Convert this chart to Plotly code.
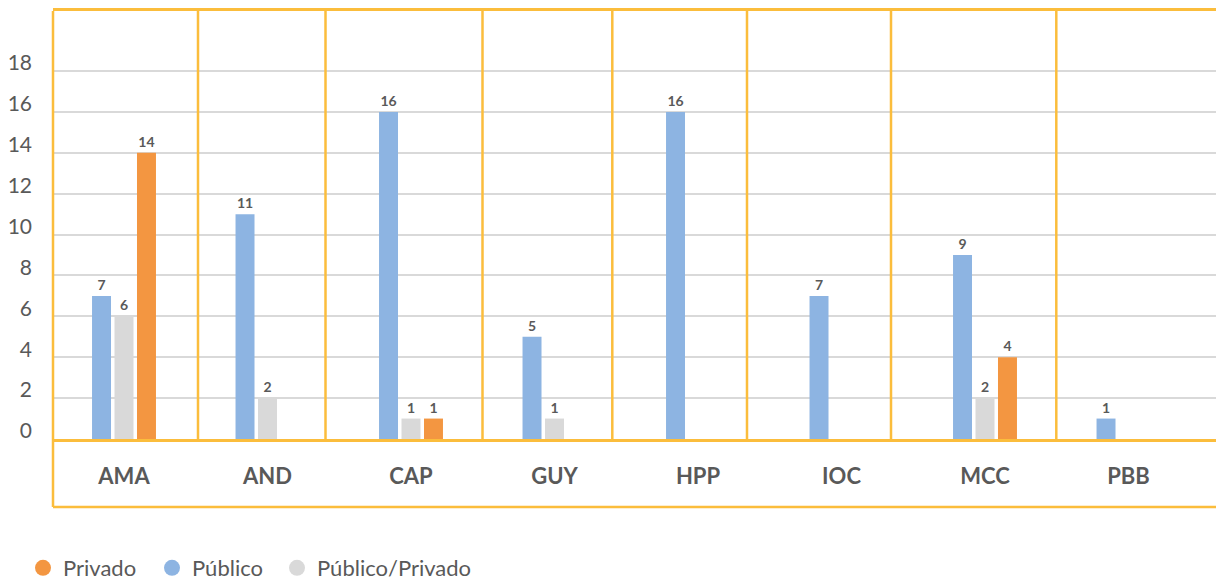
import plotly.graph_objects as go

categories = ["AMA", "AND", "CAP", "GUY", "HPP", "IOC", "MCC", "PBB"]
publico = [7, 11, 16, 5, 16, 7, 9, 1]
publico_privado = [6, 2, 1, 1, None, None, 2, None]
privado = [14, None, 1, None, None, None, 4, None]
y_ticks = [0, 2, 4, 6, 8, 10, 12, 14, 16, 18]

BLUE = "#8DB4E2"
GRAY = "#D9D9D9"
ORANGE = "#F39641"
YELLOW = "#FBBD3C"
TEXT = "#595959"
FONT = "Lato, 'Open Sans', sans-serif"

W, H = 1216, 581
ML, MT, MB = 53, 11, 142
plot_w = W - ML
plot_h = H - MT - MB

fig = go.Figure()
series = [
    ("Público", publico, BLUE, "legend2"),
    ("Público/Privado", publico_privado, GRAY, "legend3"),
    ("Privado", privado, ORANGE, "legend"),
]
for name, vals, color, lg in series:
    fig.add_trace(go.Bar(
        x=categories, y=vals, name=name, marker_color=color,
        marker_line_width=0, showlegend=False,
        text=[("" if v is None else str(v)) for v in vals],
        textposition="outside", cliponaxis=False,
        textfont=dict(family=FONT, size=14, color=TEXT, weight="bold"),
        hoverinfo="x+y+name",
    ))
for name, vals, color, lg in series:
    fig.add_trace(go.Scatter(
        x=[None], y=[None], mode="markers", name=name,
        marker=dict(color=color, size=16, symbol="circle"),
        legend=lg, showlegend=True,
    ))

# yellow table-like dividers (pixel positions of the reference frame)
divider_px = [198, 325.5, 482.5, 612.3, 747, 891, 1056.3]
shapes = []
for px in divider_px:
    xp = (px - ML) / plot_w
    shapes.append(dict(type="line", xref="paper", yref="paper", x0=xp, x1=xp,
                       y0=0, y1=1, line=dict(color=YELLOW, width=2.5), layer="above"))
bottom_y = -(507 - (H - MB)) / plot_h
shapes.append(dict(type="line", xref="paper", yref="paper", x0=0, x1=0,
                   y0=bottom_y, y1=1, line=dict(color=YELLOW, width=2.5), layer="above"))
shapes.append(dict(type="line", xref="paper", yref="paper", x0=0, x1=1.01,
                   y0=bottom_y, y1=bottom_y, line=dict(color=YELLOW, width=2.5), layer="above"))

cat_w = 143.5
left_off = (124 - ML) / cat_w
x_range = [-left_off, -left_off + plot_w / cat_w]

legend_y = -(568 - (H - MB)) / plot_h


def legend_at(px):
    return dict(orientation="h", x=(px - ML) / plot_w, xanchor="left",
                y=legend_y, yanchor="middle",
                font=dict(family=FONT, size=22, color=TEXT),
                itemsizing="trace", bgcolor="rgba(0,0,0,0)")


fig.update_layout(
    width=W, height=H,
    margin=dict(l=ML, r=0, t=MT, b=MB, autoexpand=False),
    paper_bgcolor="white", plot_bgcolor="white",
    barmode="group", bargap=0.53, bargroupgap=0.156,
    font=dict(family=FONT, color=TEXT),
    shapes=shapes,
    showlegend=True,
    legend=legend_at(23),
    legend2=legend_at(152),
    legend3=legend_at(277),
    xaxis=dict(range=x_range, showgrid=False, showline=True, mirror=True,
               linecolor=YELLOW, linewidth=2.5, ticks="", zeroline=False,
               tickfont=dict(family=FONT, size=22, color=TEXT, weight="bold"),
               ticklabelstandoff=16, automargin=False),
    yaxis=dict(range=[0, 20.94], tickvals=y_ticks, showgrid=True,
               gridcolor=GRAY, gridwidth=2, zeroline=False, showline=False,
               ticks="", tickfont=dict(family=FONT, size=21, color=TEXT),
               ticklabelstandoff=20, ticklabelshift=-8, automargin=False),
    hovermode="closest",
)

page_fix = (
    "var st=document.createElement('style');"
    "st.innerHTML='html,body{margin:0!important;padding:0!important;overflow:hidden!important;}"
    ".plotly-graph-div{position:fixed!important;top:0!important;left:0!important;}';"
    "document.head.appendChild(st);"
)
fig.write_html("out.html", config={"displayModeBar": False}, post_script=page_fix)
